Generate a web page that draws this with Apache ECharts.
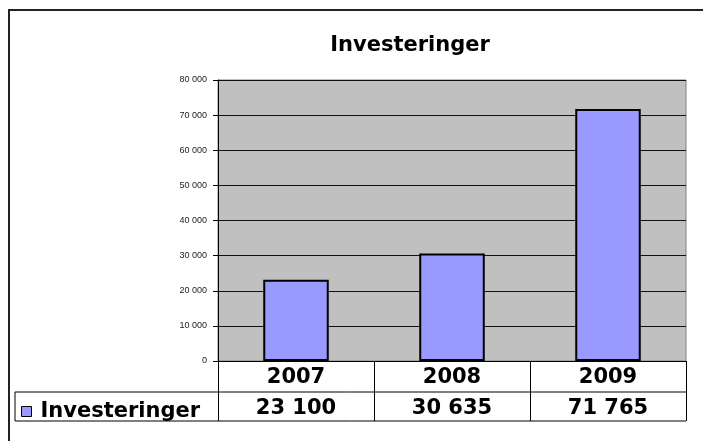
<!DOCTYPE html>
<html>
<head>
<meta charset="utf-8">
<title>Investeringer</title>
<script src="https://cdn.jsdelivr.net/npm/echarts@6/dist/echarts.min.js"></script>
<style>
  html, body { margin: 0; padding: 0; background: #fff; }
  #chart { width: 703px; height: 441px; }
</style>
</head>
<body>
<div id="chart"></div>
<script>
var years = ['2007', '2008', '2009']
var investeringer = [23100, 30635, 71765]
var yTicks = { min: 0, max: 80000, step: 10000 }

// tall som "23 100"
function tusen(v) {
  return String(v).replace(/\B(?=(\d{3})+(?!\d))/g, ' ')
}

var tableFont = 'DejaVu Sans, Verdana, sans-serif'

var myChart = echarts.init(document.getElementById('chart'))
myChart.setOption({
  animation: false,
  backgroundColor: '#fff',
  title: {
    text: 'Investeringer',
    left: 405,
    top: 30,
    textAlign: 'center',
    textStyle: { fontFamily: tableFont, fontSize: 21, fontWeight: 'bold', color: '#000' }
  },
  legend: {
    data: ['Investeringer'],
    left: 16,
    top: 396,
    icon: 'rect',
    itemWidth: 10,
    itemHeight: 10,
    itemStyle: { borderWidth: 1, borderColor: '#000' },
    textStyle: { fontFamily: tableFont, fontSize: 21, fontWeight: 'bold', color: '#000', padding: [0, 0, 0, 4] }
  },
  grid: {
    left: 218,
    top: 80,
    right: 17,
    bottom: 80,
    show: true,
    backgroundColor: '#C0C0C0',
    borderColor: '#808080',
    borderWidth: 1
  },
  xAxis: [{
    type: 'category',
    data: years,
    position: 'bottom',
    axisLine: { lineStyle: { color: '#000', width: 1 } },
    axisTick: { show: true, length: 60, alignWithLabel: false, interval: 0, lineStyle: { color: '#000' } },
    axisLabel: {
      margin: 6,
      interval: 0,
      fontFamily: tableFont, fontSize: 21, fontWeight: 'bold', color: '#000'
    }
  }, {
    type: 'category',
    data: years,
    position: 'bottom',
    offset: 31,
    axisLine: { show: false },
    axisTick: { show: false },
    axisLabel: {
      margin: 6,
      interval: 0,
      fontFamily: tableFont, fontSize: 21, fontWeight: 'bold', color: '#000',
      formatter: function (v, i) { return tusen(investeringer[i]) }
    }
  }],
  yAxis: {
    type: 'value',
    min: yTicks.min,
    max: yTicks.max,
    interval: yTicks.step,
    axisLine: { show: true, lineStyle: { color: '#000', width: 1 } },
    axisTick: { show: true, length: 5, lineStyle: { color: '#000' } },
    splitLine: { show: true, lineStyle: { color: '#111', width: 1 } },
    axisLabel: {
      margin: 11,
      fontFamily: 'Liberation Sans, Arial, sans-serif',
      fontSize: 9,
      color: '#222',
      formatter: function (v) { return tusen(v) }
    }
  },
  series: [{
    name: 'Investeringer',
    type: 'bar',
    barWidth: '42%',
    data: investeringer,
    itemStyle: { color: '#9999FF', borderColor: '#000', borderWidth: 2 }
  }],
  graphic: [
    // ytre ramme
    { type: 'polyline', shape: { points: [[9, 445], [9, 10], [705, 10]] }, style: { stroke: '#222', lineWidth: 2, fill: null } },
    // datatabell
    { type: 'line', shape: { x1: 15, y1: 392, x2: 686, y2: 392 }, style: { stroke: '#000', lineWidth: 1 } },
    { type: 'line', shape: { x1: 15, y1: 421, x2: 686, y2: 421 }, style: { stroke: '#000', lineWidth: 1 } },
    { type: 'line', shape: { x1: 15, y1: 392, x2: 15, y2: 421 }, style: { stroke: '#000', lineWidth: 1 } }
  ]
})
</script>
</body>
</html>
